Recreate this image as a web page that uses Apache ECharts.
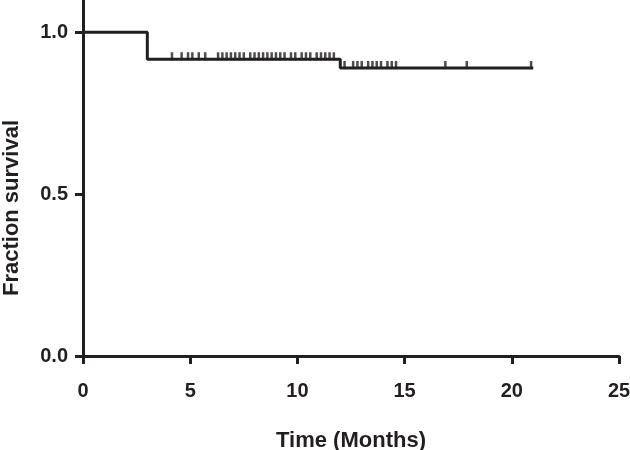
<!DOCTYPE html>
<html>
<head>
<meta charset="utf-8">
<script src="https://cdn.jsdelivr.net/npm/echarts@6/dist/echarts.min.js"></script>
<style>
  html, body { margin: 0; padding: 0; background: #fff; }
  #main { width: 630px; height: 450px; }
</style>
</head>
<body>
<div id="main"></div>
<script>
// survival curve (step points)
var stepTimes = [0, 3, 12, 21];
var stepSurvival = [1.0, 0.917, 0.89, 0.89];

// censored observations
var censorTimes = [4.15, 4.6, 4.9, 5.1, 5.4, 5.7, 6.3, 6.5, 6.7, 6.9, 7.1, 7.3, 7.5, 7.8,
    8.0, 8.2, 8.4, 8.6, 8.8, 9.0, 9.2, 9.4, 9.7, 9.9, 10.2, 10.4, 10.6, 10.9, 11.1, 11.3, 11.5, 11.7,
    12.2, 12.6, 12.8, 13.0, 13.3, 13.5, 13.7, 13.9, 14.2, 14.4, 14.6, 16.9, 17.9, 20.9];

var xTicks = [0, 5, 10, 15, 20, 25];
var yTicks = [0, 0.5, 1.0];

// survival value at time t
function survivalAt(t) {
    var s = stepSurvival[0];
    for (var i = 0; i < stepTimes.length; i++) {
        if (t >= stepTimes[i]) s = stepSurvival[i];
    }
    return s;
}

(function () {
    var myChart = echarts.init(document.getElementById('main'));
    var ink = '#231f20';
    var font = 'Liberation Sans, Arial, sans-serif';

    var option = {
        animation: false,
        grid: {
            left: 83,
            right: 11,
            top: 0,
            bottom: 94,
            outerBoundsMode: 'none'
        },
        xAxis: {
            type: 'value',
            min: 0,
            max: 25,
            interval: 5,
            name: 'Time (Months)',
            nameLocation: 'middle',
            nameGap: 74,
            nameTextStyle: { color: ink, fontSize: 22, fontWeight: 'bold', fontFamily: font },
            axisLine: { lineStyle: { color: ink, width: 3 } },
            axisTick: { length: 8, lineStyle: { color: ink, width: 3 }, customValues: xTicks },
            axisLabel: { color: ink, fontSize: 20, fontWeight: 'bold', fontFamily: font, margin: 25, customValues: xTicks },
            splitLine: { show: false }
        },
        yAxis: {
            type: 'value',
            min: 0,
            max: 1.1,
            name: 'Fraction survival',
            nameLocation: 'middle',
            nameGap: 60,
            // centre the title a bit lower, as in the original
            nameTextStyle: { color: ink, fontSize: 22, fontWeight: 'bold', fontFamily: font, padding: [0, 60, 0, 0] },
            axisLine: { lineStyle: { color: ink, width: 3 } },
            axisTick: { length: 8, lineStyle: { color: ink, width: 3 }, customValues: yTicks },
            axisLabel: {
                color: ink, fontSize: 20, fontWeight: 'bold', fontFamily: font, margin: 15,
                customValues: yTicks,
                formatter: function (v) { return v.toFixed(1); }
            },
            splitLine: { show: false }
        },
        series: [
            {
                type: 'line',
                step: 'end',
                symbol: 'none',
                lineStyle: { color: ink, width: 3 },
                data: stepTimes.map(function (t, i) { return [t, stepSurvival[i]]; })
            },
            {
                type: 'scatter',
                symbol: 'rect',
                symbolSize: [2.5, 8],
                symbolOffset: [0, -3],
                itemStyle: { color: ink },
                data: censorTimes.map(function (t) { return [t, survivalAt(t)]; })
            }
        ]
    };

    myChart.setOption(option);

    window.addEventListener('resize', function () {
        myChart.resize();
    });
})();
</script>
</body>
</html>
